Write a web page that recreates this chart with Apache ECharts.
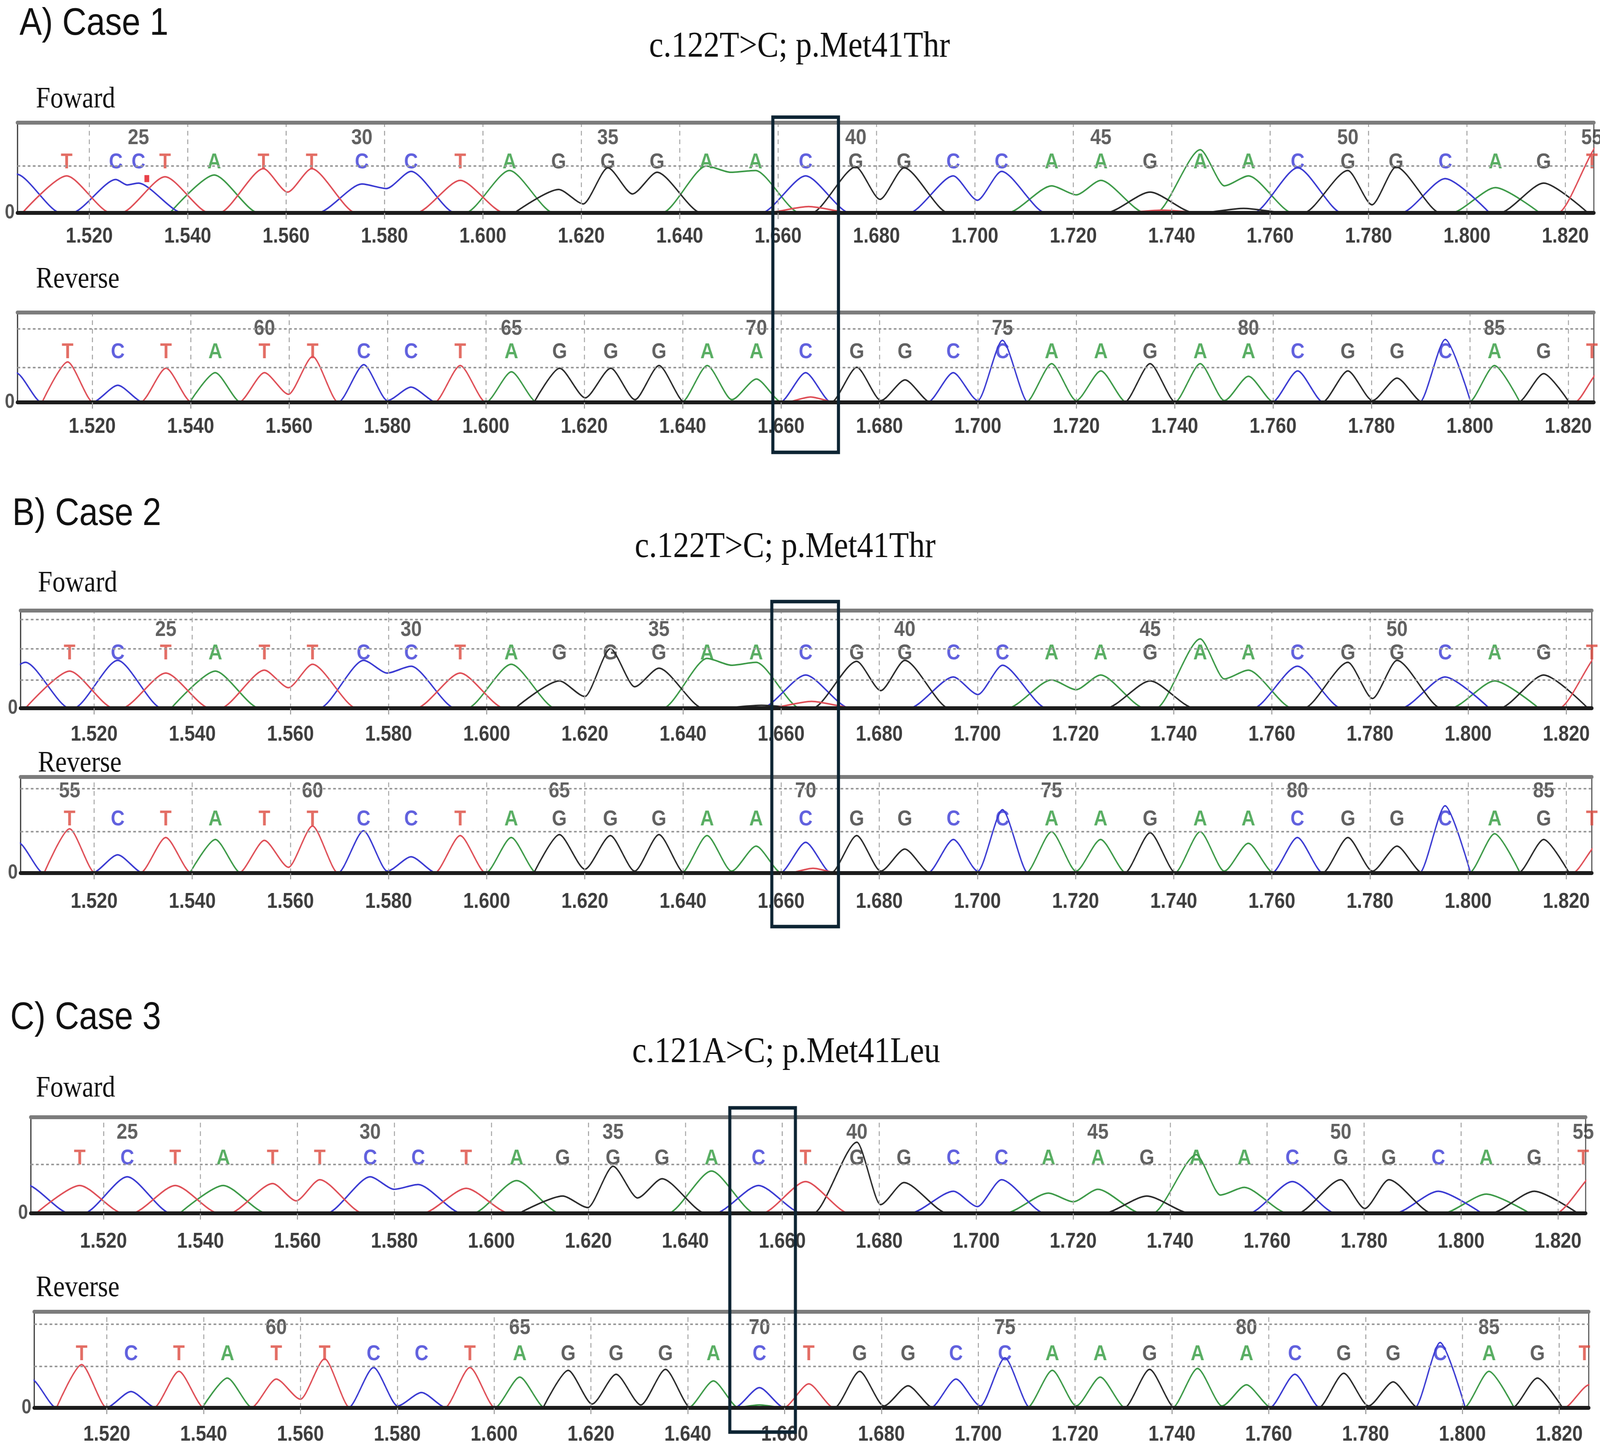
<!DOCTYPE html>
<html>
<head>
<meta charset="utf-8">
<title>Sanger traces, cases 1-3</title>
<script src="https://cdn.jsdelivr.net/npm/echarts@6/dist/echarts.min.js"></script>
<style>
  html, body { margin: 0; padding: 0; background: #fff; overflow: hidden; }
  #main { width: 4683px; height: 3717px; transform-origin: 0 0; }
</style>
</head>
<body>
<div id="main"></div>
<script>
// scan-position tick labels, the same for all six traces
var ticks = [1.52, 1.54, 1.56, 1.58, 1.60, 1.62, 1.64, 1.66, 1.68, 1.70, 1.72, 1.74, 1.76, 1.78, 1.80, 1.82];

// ---- case 1, forward ----
var aFwdRange = [1.5054, 1.8258];
var aFwdFirst = 23;
var aFwdCalls = 'TCCTATTCCTAGGGAACGGCCAAGAACGGCAGT';
var aFwdX = [1.5154, 1.5254, 1.5300, 1.5354, 1.5454, 1.5554, 1.5652, 1.5754, 1.5854, 1.5954, 1.6054,
             1.6154, 1.6254, 1.6354, 1.6454, 1.6554, 1.6656, 1.6758, 1.6856, 1.6956, 1.7054, 1.7156,
             1.7256, 1.7356, 1.7458, 1.7556, 1.7656, 1.7758, 1.7856, 1.7956, 1.8058, 1.8156, 1.8254];
var aFwdH = [0.41, 0.37, 0.33, 0.40, 0.42, 0.49, 0.49, 0.32, 0.46, 0.36, 0.47,
             0.26, 0.50, 0.45, 0.52, 0.47, 0.41, 0.51, 0.50, 0.41, 0.46, 0.30,
             0.36, 0.23, 0.70, 0.41, 0.50, 0.47, 0.51, 0.38, 0.28, 0.33, null];
// trough between call i and the next peak of the same base
var aFwdDips = [[1, 0.31], [5, 0.23], [7, 0.27], [11, 0.10], [12, 0.21], [14, 0.45],
                [17, 0.15], [19, 0.14], [21, 0.20], [24, 0.30], [27, 0.09]];
// peaks with no call of their own (edges, secondary peaks)
var aFwdExtra = [['C', 1.5052, 0.43], ['T', 1.6662, 0.07], ['T', 1.7381, 0.03],
                 ['G', 1.7546, 0.05], ['T', 1.8275, 0.80]];
var aFwdFlag = [[1.5317, 0.38]];

// ---- case 1, reverse ----
var aRevRange = [1.5048, 1.8252];
var aRevFirst = 56;
var aRevCalls = 'TCTATTCCTAGGGAACGGCCAAGAACGGCAGT';
var aRevX = [1.5150, 1.5252, 1.5350, 1.5450, 1.5550, 1.5648, 1.5752, 1.5848, 1.5948, 1.6052, 1.6150,
             1.6254, 1.6352, 1.6450, 1.6550, 1.6650, 1.6754, 1.6852, 1.6950, 1.7050, 1.7150, 1.7250,
             1.7350, 1.7452, 1.7550, 1.7650, 1.7752, 1.7852, 1.7950, 1.8050, 1.8150, 1.8248];
var aRevH = [0.45, 0.19, 0.38, 0.33, 0.33, 0.51, 0.42, 0.17, 0.41, 0.34, 0.38,
             0.38, 0.41, 0.41, 0.26, 0.33, 0.39, 0.25, 0.33, 0.69, 0.43, 0.35,
             0.43, 0.43, 0.29, 0.35, 0.35, 0.27, 0.70, 0.41, 0.32, null];
var aRevDips = [[4, 0.09], [6, 0.02], [10, 0.05], [11, 0.03], [13, 0.03], [16, 0.02],
                [18, 0.02], [20, 0.02], [23, 0.02], [26, 0.02]];
var aRevExtra = [['C', 1.5045, 0.33], ['T', 1.6660, 0.06], ['T', 1.8265, 0.35]];

// ---- case 2, forward ----
var bFwdRange = [1.5050, 1.8252];
var bFwdFirst = 23;
var bFwdCalls = 'TCTATTCCTAGGGAACGGCCAAGAACGGCAGT';
var bFwdX = [1.5150, 1.5248, 1.5346, 1.5447, 1.5547, 1.5645, 1.5749, 1.5846, 1.5946, 1.6050, 1.6148,
             1.6252, 1.6351, 1.6449, 1.6549, 1.6650, 1.6754, 1.6852, 1.6951, 1.7051, 1.7151, 1.7251,
             1.7352, 1.7454, 1.7552, 1.7652, 1.7755, 1.7855, 1.7953, 1.8054, 1.8154, 1.8252];
var bFwdH = [0.38, 0.49, 0.36, 0.38, 0.39, 0.45, 0.49, 0.43, 0.36, 0.45, 0.28,
             0.61, 0.41, 0.51, 0.47, 0.34, 0.48, 0.49, 0.32, 0.44, 0.29, 0.34,
             0.28, 0.71, 0.39, 0.43, 0.47, 0.49, 0.32, 0.28, 0.34, null];
var bFwdDips = [[4, 0.21], [6, 0.36], [10, 0.12], [11, 0.22], [13, 0.44], [16, 0.18],
                [18, 0.14], [20, 0.19], [23, 0.30], [26, 0.10]];
var bFwdExtra = [['C', 1.5060, 0.47], ['T', 1.6662, 0.07], ['G', 1.6560, 0.03], ['T', 1.8275, 0.60]];

// ---- case 2, reverse ----
var bRevRange = [1.5050, 1.8252];
var bRevFirst = 55;
var bRevCalls = 'TCTATTCCTAGGGAACGGCCAAGAACGGCAGT';
var bRevX = [1.5150, 1.5248, 1.5346, 1.5447, 1.5547, 1.5645, 1.5749, 1.5846, 1.5946, 1.6050, 1.6148,
             1.6252, 1.6351, 1.6449, 1.6549, 1.6650, 1.6754, 1.6852, 1.6951, 1.7051, 1.7151, 1.7251,
             1.7352, 1.7454, 1.7552, 1.7652, 1.7755, 1.7855, 1.7953, 1.8054, 1.8154, 1.8252];
var bRevH = [0.46, 0.19, 0.37, 0.35, 0.34, 0.49, 0.44, 0.17, 0.39, 0.37, 0.40,
             0.39, 0.40, 0.39, 0.28, 0.32, 0.39, 0.25, 0.35, 0.66, 0.43, 0.35,
             0.42, 0.43, 0.31, 0.37, 0.37, 0.28, 0.70, 0.41, 0.35, null];
var bRevDips = [[4, 0.06], [6, 0.02], [10, 0.04], [11, 0.02], [13, 0.02], [16, 0.02],
                [18, 0.02], [20, 0.02], [23, 0.02], [26, 0.02]];
var bRevExtra = [['C', 1.5045, 0.32], ['T', 1.6665, 0.05], ['T', 1.8265, 0.30]];

// ---- case 3, forward ----
var cFwdRange = [1.5050, 1.8257];
var cFwdFirst = 24;
var cFwdCalls = 'TCTATTCCTAGGGACTGGCCAAGAACGGCAGT';
var cFwdX = [1.5151, 1.5249, 1.5348, 1.5447, 1.5549, 1.5646, 1.5750, 1.5849, 1.5948, 1.6052, 1.6147,
             1.6251, 1.6352, 1.6454, 1.6551, 1.6648, 1.6754, 1.6851, 1.6953, 1.7052, 1.7149, 1.7251,
             1.7352, 1.7454, 1.7553, 1.7652, 1.7752, 1.7851, 1.7953, 1.8052, 1.8151, 1.8252];
var cFwdH = [0.29, 0.38, 0.29, 0.29, 0.31, 0.35, 0.38, 0.30, 0.26, 0.34, 0.18,
             0.49, 0.36, 0.44, 0.29, 0.33, 0.74, 0.32, 0.23, 0.35, 0.21, 0.25,
             0.18, 0.61, 0.27, 0.33, 0.35, 0.35, 0.23, 0.20, 0.23, null];
var cFwdDips = [[4, 0.13], [6, 0.25], [10, 0.06], [11, 0.16], [16, 0.09], [18, 0.07],
                [20, 0.12], [23, 0.19], [26, 0.05]];
var cFwdExtra = [['C', 1.5040, 0.30], ['T', 1.8285, 0.45]];

// ---- case 3, reverse ----
var cRevRange = [1.5050, 1.8261];
var cRevFirst = 56;
var cRevCalls = 'TCTATTCCTAGGGACTGGCCAAGAACGGCAGT';
var cRevX = [1.5148, 1.5250, 1.5349, 1.5449, 1.5550, 1.5650, 1.5751, 1.5850, 1.5950, 1.6053, 1.6153,
             1.6252, 1.6354, 1.6453, 1.6548, 1.6650, 1.6755, 1.6855, 1.6954, 1.7055, 1.7153, 1.7252,
             1.7354, 1.7453, 1.7554, 1.7654, 1.7755, 1.7857, 1.7954, 1.8055, 1.8155, 1.8252];
var cRevH = [0.45, 0.17, 0.38, 0.31, 0.30, 0.51, 0.42, 0.16, 0.42, 0.32, 0.39,
             0.35, 0.40, 0.28, 0.21, 0.25, 0.38, 0.23, 0.30, 0.52, 0.39, 0.32,
             0.40, 0.41, 0.24, 0.35, 0.36, 0.27, 0.68, 0.38, 0.31, null];
var cRevDips = [[4, 0.09], [6, 0.02], [10, 0.04], [11, 0.03], [16, 0.02], [18, 0.02],
                [20, 0.02], [23, 0.02], [26, 0.02]];
var cRevExtra = [['C', 1.5044, 0.30], ['A', 1.6548, 0.03], ['T', 1.8262, 0.24]];

var traceColor = { A: '#3d9a48', C: '#3a3ad2', G: '#2b2b2b', T: '#df4f57' };
var callColor = { A: '#2f9a3c', C: '#3a3ad6', G: '#3a3a3a', T: '#dc4a3e' };

// layout of the six traces, in pixels of the 4683 x 3717 figure
var panels = [
  { calls: aFwdCalls, x: aFwdX, h: aFwdH, dips: aFwdDips, extra: aFwdExtra, first: aFwdFirst, range: aFwdRange,
    box: [51, 314, 4614, 231], w: 0.009, callRow: 0.56, noRow: 0.83, dotted: [0.52], gap: 33, flag: aFwdFlag },
  { calls: aRevCalls, x: aRevX, h: aRevH, dips: aRevDips, extra: aRevExtra, first: aRevFirst, range: aRevRange,
    box: [51, 800, 4614, 230], w: 0.0052, callRow: 0.56, noRow: 0.82, dotted: [0.39, 0.82], gap: 35 },
  { calls: bFwdCalls, x: bFwdX, h: bFwdH, dips: bFwdDips, extra: bFwdExtra, first: bFwdFirst, range: bFwdRange,
    box: [60, 1563, 4599, 250], w: 0.009, callRow: 0.56, noRow: 0.80, dotted: [0.29, 0.61, 0.91], gap: 40 },
  { calls: bRevCalls, x: bRevX, h: bRevH, dips: bRevDips, extra: bRevExtra, first: bRevFirst, range: bRevRange,
    box: [60, 1989, 4599, 246], w: 0.0052, callRow: 0.56, noRow: 0.85, dotted: [0.43, 0.88], gap: 46 },
  { calls: cFwdCalls, x: cFwdX, h: cFwdH, dips: cFwdDips, extra: cFwdExtra, first: cFwdFirst, range: cFwdRange,
    box: [90, 2860, 4551, 246], w: 0.009, callRow: 0.57, noRow: 0.84, dotted: [0.51], gap: 45 },
  { calls: cRevCalls, x: cRevX, h: cRevH, dips: cRevDips, extra: cRevExtra, first: cRevFirst, range: cRevRange,
    box: [100, 3358, 4550, 246], w: 0.0052, callRow: 0.56, noRow: 0.83, dotted: [0.43, 0.87], gap: 41 }
];

// one line per dye: baseline -> apex -> baseline, or apex -> trough -> apex
function dyeTrace(p, base) {
  var dipAt = {};
  p.dips.forEach(function (d) { dipAt[d[0]] = d[1]; });
  var peaks = [];
  for (var i = 0; i < p.calls.length; i++) {
    if (p.calls[i] === base && p.h[i] != null) peaks.push({ x: p.x[i], h: p.h[i], i: i });
  }
  p.extra.forEach(function (e) {
    if (e[0] === base) peaks.push({ x: e[1], h: e[2], i: -1 });
  });
  peaks.sort(function (a, b) { return a.x - b.x; });
  var pts = [];
  peaks.forEach(function (pk, k) {
    var prev = peaks[k - 1], next = peaks[k + 1];
    if (!prev || dipAt[prev.i] == null) pts.push([pk.x - p.w, 0]);
    pts.push([pk.x, pk.h]);
    if (next && dipAt[pk.i] != null) pts.push([(pk.x + next.x) / 2, dipAt[pk.i]]);
    else pts.push([pk.x + p.w, 0]);
  });
  return pts;
}

var option = {
  animation: false,
  backgroundColor: '#ffffff',
  grid: [], xAxis: [], yAxis: [], series: [], graphic: []
};

panels.forEach(function (p, gi) {
  option.grid.push({
    left: p.box[0], top: p.box[1], width: p.box[2], height: p.box[3],
    show: true, borderColor: '#4a4a4a', borderWidth: 3
  });
  option.xAxis.push({
    gridIndex: gi, type: 'value', min: p.range[0], max: p.range[1], position: 'bottom', z: 6,
    axisLine: { onZero: false, lineStyle: { color: '#1c1c1c', width: 10 } },
    axisTick: { show: true, customValues: ticks, length: 16, lineStyle: { color: '#9a9a9a', width: 3 } },
    axisLabel: {
      customValues: ticks, margin: p.gap,
      formatter: function (v) { return v.toFixed(3); },
      fontFamily: 'Liberation Sans', fontSize: 55, fontWeight: 'bold', color: '#3e3e3e'
    },
    splitLine: { show: false }
  });
  option.xAxis.push({
    gridIndex: gi, type: 'value', min: p.range[0], max: p.range[1], position: 'top', z: 6,
    axisLine: { onZero: false, lineStyle: { color: '#7c7c7c', width: 10 } },
    axisTick: { show: false }, axisLabel: { show: false }, splitLine: { show: false }
  });
  option.yAxis.push({
    gridIndex: gi, type: 'value', min: 0, max: 1,
    axisLine: { show: true, lineStyle: { color: '#333', width: 3 } },
    axisTick: { show: false },
    axisLabel: { customValues: [0], margin: 8, fontFamily: 'Liberation Sans', fontSize: 52,
                 fontWeight: 'bold', color: '#555' },
    splitLine: { show: false }
  });

  ['A', 'C', 'G', 'T'].forEach(function (b) {
    option.series.push({
      type: 'line', xAxisIndex: gi * 2, yAxisIndex: gi,
      data: dyeTrace(p, b), symbol: 'none', showSymbol: false,
      smooth: 0.25, smoothMonotone: 'x', clip: true, silent: true, z: 3,
      lineStyle: { color: traceColor[b], width: 4 }
    });
  });

  // base calls + grid lines
  var callItems = [];
  for (var i = 0; i < p.calls.length; i++) {
    callItems.push({ name: p.calls[i], value: [p.x[i], p.callRow], label: { color: callColor[p.calls[i]] } });
  }
  var marks = ticks.map(function (v) {
    return { xAxis: v, lineStyle: { type: [12, 10], color: '#a8a8a8', width: 3 } };
  }).concat(p.dotted.map(function (v) {
    return { yAxis: v, lineStyle: { type: [8, 7], color: '#9a9a9a', width: 4 } };
  }));
  option.series.push({
    type: 'scatter', xAxisIndex: gi * 2, yAxisIndex: gi, silent: true, z: 2,
    symbolSize: 1, itemStyle: { color: 'rgba(0,0,0,0)' },
    label: { show: true, position: 'inside', formatter: '{b}', fontFamily: 'Liberation Sans',
             fontSize: 56, fontWeight: 'bold' },
    data: callItems,
    markLine: { silent: true, symbol: ['none', 'none'], label: { show: false }, data: marks }
  });

  // every fifth base number
  var noItems = [];
  for (var j = 0; j < p.calls.length; j++) {
    var no = p.first + j;
    if (no % 5 === 0) noItems.push({ name: String(no), value: [p.x[j], p.noRow] });
  }
  option.series.push({
    type: 'scatter', xAxisIndex: gi * 2, yAxisIndex: gi, silent: true, z: 2,
    symbolSize: 1, itemStyle: { color: 'rgba(0,0,0,0)' },
    label: { show: true, position: 'inside', formatter: '{b}', fontFamily: 'Liberation Sans',
             fontSize: 56, fontWeight: 'bold', color: '#3a3a3a' },
    data: noItems
  });

  if (p.flag) {
    option.series.push({
      type: 'scatter', xAxisIndex: gi * 2, yAxisIndex: gi, silent: true, z: 4,
      symbol: 'rect', symbolSize: [14, 18], itemStyle: { color: '#e3121c' },
      data: p.flag
    });
  }
});

// headings and the boxes round the variant position
function txt(s, x, y, font, align) {
  return { type: 'text', x: x, y: y, silent: true,
           style: { text: s, font: font, fill: '#111', textAlign: align || 'left', textVerticalAlign: 'middle' } };
}
var sans = '98px "Liberation Sans"', serifBig = '94px "Liberation Serif"', serif = '76px "Liberation Serif"';
option.graphic = [
  txt('A) Case 1', 57, 62, sans),
  txt('c.122T>C; p.Met41Thr', 2340, 120, serifBig, 'center'),
  txt('Foward', 105, 255, serif),
  txt('Reverse', 105, 716, serif),
  txt('B) Case 2', 36, 1317, sans),
  txt('c.122T>C; p.Met41Thr', 2298, 1401, serifBig, 'center'),
  txt('Foward', 111, 1494, serif),
  txt('Reverse', 111, 1955, serif),
  txt('C) Case 3', 30, 2607, sans),
  txt('c.121A>C; p.Met41Leu', 2301, 2694, serifBig, 'center'),
  txt('Foward', 105, 2787, serif),
  txt('Reverse', 105, 3298, serif),
  { type: 'rect', silent: true, z: 100, shape: { x: 2262, y: 300, width: 192, height: 858 },
    style: { fill: 'none', stroke: '#0d2433', lineWidth: 9 } },
  { type: 'rect', silent: true, z: 100, shape: { x: 2259, y: 1540, width: 195, height: 832 },
    style: { fill: 'none', stroke: '#0d2433', lineWidth: 9 } },
  { type: 'rect', silent: true, z: 100, shape: { x: 2136, y: 2836, width: 192, height: 830 },
    style: { fill: 'none', stroke: '#0d2433', lineWidth: 9 } }
];

// the figure is laid out at 4683 x 3717; fit it to whatever window we get
var el = document.getElementById('main');
var sx = Math.min(1, window.innerWidth / 4683), sy = Math.min(1, window.innerHeight / 3717);
el.style.transform = 'scale(' + sx + ',' + sy + ')';

var chart = echarts.init(el);
chart.setOption(option);
</script>
</body>
</html>
